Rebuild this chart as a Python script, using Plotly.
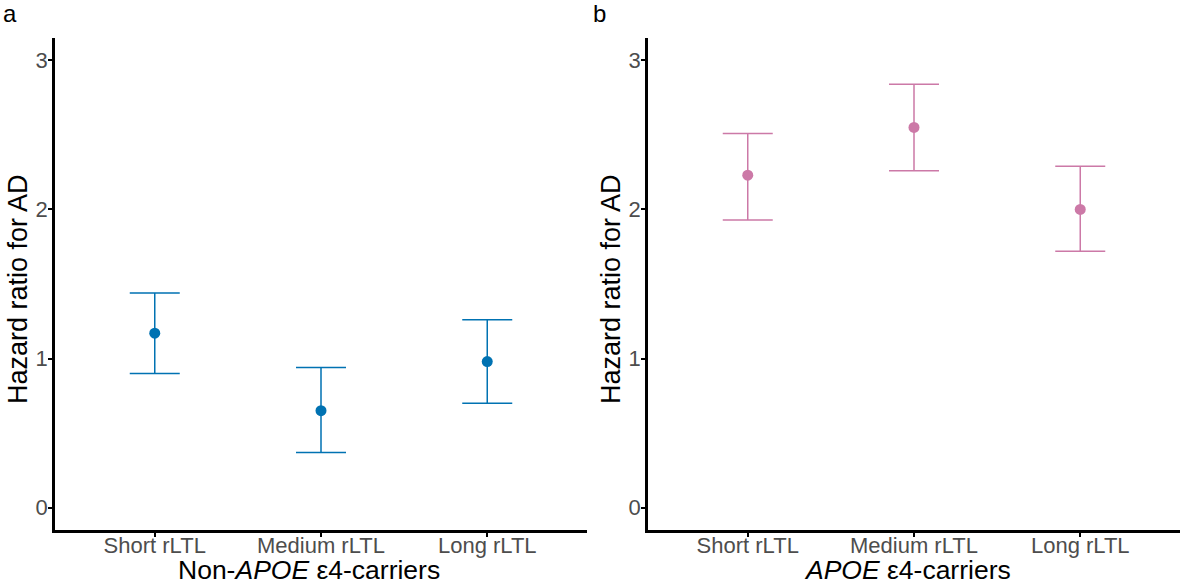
import plotly.graph_objects as go

categories = ["Short rLTL", "Medium rLTL", "Long rLTL"]

# Panel a: Non-APOE e4-carriers
hr_a = [1.17, 0.65, 0.98]
lo_a = [0.90, 0.37, 0.70]
hi_a = [1.44, 0.94, 1.26]

# Panel b: APOE e4-carriers
hr_b = [2.23, 2.55, 2.00]
lo_b = [1.93, 2.26, 1.72]
hi_b = [2.51, 2.84, 2.29]

y_ticks = [0, 1, 2, 3]

BLUE = "#0072B2"
PINK = "#CC79A7"
FONT = "Liberation Sans, Arial, sans-serif"

fig = go.Figure()


def add_panel(hr, lo, hi, color, xaxis, yaxis):
    fig.add_trace(go.Scatter(
        x=categories, y=hr, mode="markers",
        marker=dict(color=color, size=11),
        error_y=dict(type="data", symmetric=False,
                     array=[h - m for h, m in zip(hi, hr)],
                     arrayminus=[m - l for m, l in zip(hr, lo)],
                     color=color, thickness=1.5, width=25),
        xaxis=xaxis, yaxis=yaxis, showlegend=False,
    ))


add_panel(hr_a, lo_a, hi_a, BLUE, "x", "y")
add_panel(hr_b, lo_b, hi_b, PINK, "x2", "y2")

W, H = 1181, 584
top, bottom = 38, 530
ydom = [(H - bottom) / H, (H - top) / H]

axis_common = dict(
    showline=True, linecolor="black", linewidth=2.5, mirror=False,
    ticks="outside", ticklen=4, tickwidth=1.5, tickcolor="black",
    showgrid=False, zeroline=False,
    tickfont=dict(family=FONT, size=22, color="#4D4D4D"),
)

xcommon = dict(axis_common, type="category", range=[-0.6, 2.6],
               ticklabelstandoff=-10)
ycommon = dict(axis_common, range=[-0.15, 3.15], tickvals=y_ticks,
               ticktext=[str(v) for v in y_ticks], ticklabelstandoff=-4)

fig.update_layout(
    width=W, height=H,
    margin=dict(l=0, r=0, t=0, b=0),
    paper_bgcolor="white", plot_bgcolor="white",
    font=dict(family=FONT),
    xaxis=dict(xcommon, domain=[55 / W, 587 / W], anchor="y"),
    yaxis=dict(ycommon, domain=ydom, anchor="x"),
    xaxis2=dict(xcommon, domain=[648 / W, 1180 / W], anchor="y2"),
    yaxis2=dict(ycommon, domain=ydom, anchor="x2"),
)

ann = []
# Panel labels
ann.append(dict(text="a", x=1 / W, y=1 - 13 / H, xref="paper", yref="paper",
                xanchor="left", yanchor="middle", showarrow=False,
                font=dict(family=FONT, size=24, color="black")))
ann.append(dict(text="b", x=591 / W, y=1 - 13 / H, xref="paper", yref="paper",
                xanchor="left", yanchor="middle", showarrow=False,
                font=dict(family=FONT, size=24, color="black")))
# Y titles
for xc in [18, 611]:
    ann.append(dict(text="Hazard ratio for AD", x=xc / W, y=(H - 289) / H,
                    xref="paper", yref="paper", textangle=-90,
                    xanchor="center", yanchor="middle", showarrow=False,
                    font=dict(family=FONT, size=27, color="black")))
# X titles
ann.append(dict(text="Non-<i>APOE</i> ε4-carriers", x=309 / W, y=(H - 570) / H,
                xref="paper", yref="paper", xanchor="center", yanchor="middle",
                showarrow=False, font=dict(family=FONT, size=26.5, color="black")))
ann.append(dict(text="<i>APOE</i> ε4-carriers", x=907 / W, y=(H - 570) / H,
                xref="paper", yref="paper", xanchor="center", yanchor="middle",
                showarrow=False, font=dict(family=FONT, size=26.5, color="black")))
fig.update_layout(annotations=ann)

fig.write_html(
    "out.html",
    config={"displayModeBar": False},
    post_script="document.body.style.margin='0';document.body.style.padding='0';",
)
